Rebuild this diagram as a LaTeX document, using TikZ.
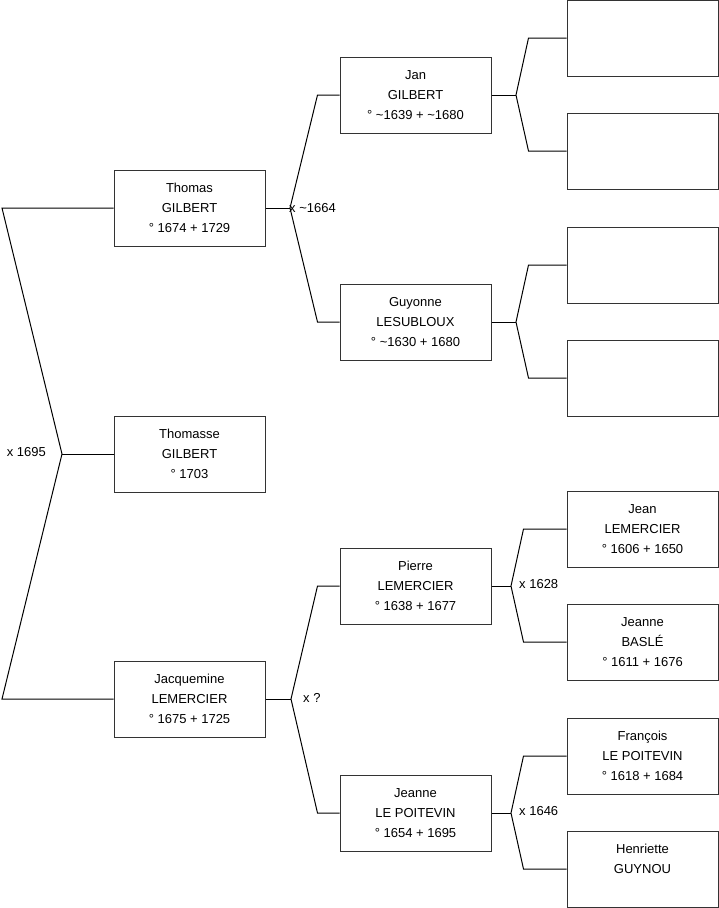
\documentclass[tikz,border=0pt]{standalone}
\usepackage{fontspec}
\setmainfont{Liberation Sans}
\usepackage{xcolor}
\usetikzlibrary{calc,positioning}
\definecolor{BoxGray}{HTML}{333333}
\definecolor{LinkGray}{HTML}{000000}

\begin{document}
\begin{tikzpicture}[
    x=1pt,y=-1pt,
    font=\fontsize{13}{20}\selectfont,
    link/.style={line width=1pt,draw=LinkGray},
    person/.style={draw=BoxGray,line width=1pt,minimum width=151pt,
      minimum height=76pt,align=center,inner sep=0pt},
    tag/.style={font=\fontsize{13}{15}\selectfont,inner sep=1pt}
  ]
    \useasboundingbox (0,0) rectangle (719,908);

    % Generation 1: the couple and their child.
    \node[person] (thomas) at (189.5,208)
      {Thomas\\GILBERT\\° 1674 + 1729};
    \node[person] (thomasse) at (189.5,454)
      {Thomasse\\GILBERT\\° 1703};
    \node[person] (jacquemine) at (189.5,699)
      {Jacquemine\\LEMERCIER\\° 1675 + 1725};

    % Generation 2: parents.
    \node[person] (jan) at (415.5,95)
      {Jan\\GILBERT\\° \textasciitilde1639 + \textasciitilde1680};
    \node[person] (guyonne) at (415.5,322)
      {Guyonne\\LESUBLOUX\\° \textasciitilde1630 + 1680};
    \node[person] (pierre) at (415.5,586)
      {Pierre\\LEMERCIER\\° 1638 + 1677};
    \node[person] (jeanneLP) at (415.5,813)
      {Jeanne\\LE POITEVIN\\° 1654 + 1695};

    % Generation 3: grandparents.
    \node[person] (janF) at (642.5,38) {};
    \node[person] (janM) at (642.5,151) {};
    \node[person] (guyF) at (642.5,265) {};
    \node[person] (guyM) at (642.5,378) {};
    \node[person] (jean) at (642.5,529)
      {Jean\\LEMERCIER\\° 1606 + 1650};
    \node[person] (jeanneB) at (642.5,642)
      {Jeanne\\BASLÉ\\° 1611 + 1676};
    \node[person] (francois) at (642.5,756)
      {François\\LE POITEVIN\\° 1618 + 1684};
    \node[person] (henriette) at (642.5,869)
      {Henriette\\GUYNOU\\~};

    % Marriage junctions.
    \coordinate (m0) at (62,454);
    \coordinate (m1) at (290,208);
    \coordinate (m2) at (291,699);
    \coordinate (m3) at (516,95);
    \coordinate (m4) at (516,322);
    \coordinate (m5) at (511,586);
    \coordinate (m6) at (511,813);

    \draw[link] (thomas.west) -- (2,208) -- (m0) -- (2,699)
      -- (jacquemine.west);
    \draw[link] (m0) -- (thomasse.west);
    \node[tag,anchor=east] at (47,452) {x 1695};

    \draw[link] (thomas.east) -- (m1);
    \draw[link] (jan.west) -- ++(-22,0) -- (m1) -- ($(guyonne.west)+(-22,0)$)
      -- (guyonne.west);
    \node[tag,anchor=west] at (288,208) {x \textasciitilde1664};

    \draw[link] (jacquemine.east) -- (m2);
    \draw[link] (pierre.west) -- ++(-22,0) -- (m2) -- ($(jeanneLP.west)+(-22,0)$)
      -- (jeanneLP.west);
    \node[tag,anchor=west] at (302,698) {x ?};

    \draw[link] (jan.east) -- (m3);
    \draw[link] (janF.west) -- ++(-38,0) -- (m3) -- ($(janM.west)+(-38,0)$)
      -- (janM.west);
    \draw[link] (guyonne.east) -- (m4);
    \draw[link] (guyF.west) -- ++(-38,0) -- (m4) -- ($(guyM.west)+(-38,0)$)
      -- (guyM.west);

    \draw[link] (pierre.east) -- (m5);
    \draw[link] (jean.west) -- ++(-43,0) -- (m5) -- ($(jeanneB.west)+(-43,0)$)
      -- (jeanneB.west);
    \node[tag,anchor=west] at (518,584) {x 1628};

    \draw[link] (jeanneLP.east) -- (m6);
    \draw[link] (francois.west) -- ++(-43,0) -- (m6) -- ($(henriette.west)+(-43,0)$)
      -- (henriette.west);
    \node[tag,anchor=west] at (518,811) {x 1646};
  \end{tikzpicture}
\end{document}
